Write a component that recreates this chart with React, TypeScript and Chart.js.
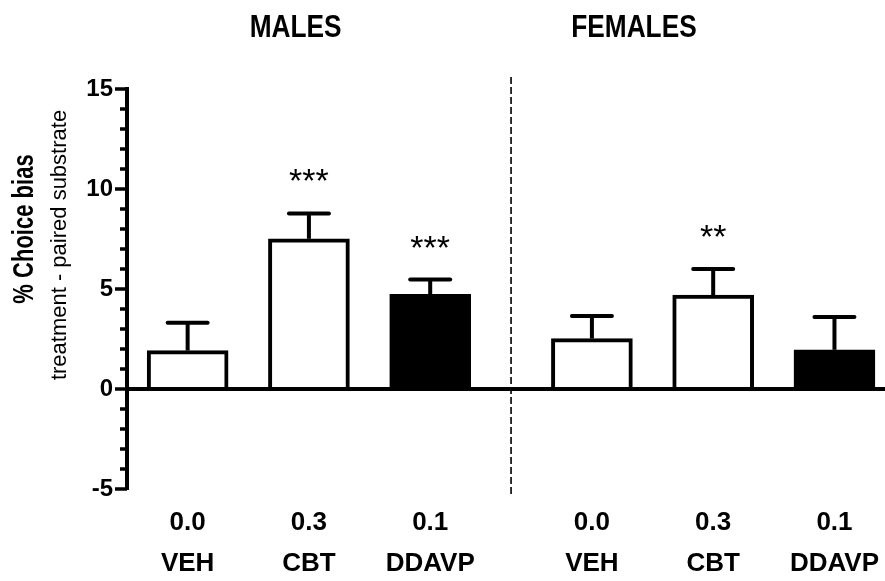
import { useEffect, useRef } from 'react';
import { Chart, registerables } from 'chart.js';

Chart.register(...registerables);

const treatments = ['VEH', 'CBT', 'DDAVP'];
const doses = ['0.0', '0.3', '0.1'];
const groupTitles = ['MALES', 'FEMALES'];
const maleMeans = [1.92, 7.51, 4.73];
const maleSEM = [1.39, 1.27, 0.74];
const femaleMeans = [2.52, 4.7, 1.96];
const femaleSEM = [1.13, 1.3, 1.64];
const maleStars = ['', '***', '***'];
const femaleStars = ['', '**', ''];
const barFills = ['#ffffff', '#ffffff', '#000000'];
const yTickValues = [-5, 0, 5, 10, 15];
const yTitle = '% Choice bias';
const ySubtitle = 'treatment - paired substrate';

const FONT = "'Liberation Sans', Arial, Helvetica, sans-serif";
const GROUP_SHIFT = 10 / 3;

export default function App() {
  const ref = useRef<HTMLCanvasElement>(null);

  useEffect(() => {
    if (!ref.current) return;
    const means = [...maleMeans, ...femaleMeans];
    const sems = [...maleSEM, ...femaleSEM];
    const stars = [...maleStars, ...femaleStars];
    const fills = [...barFills, ...barFills];
    const xs = [
      ...treatments.map((_, i) => i),
      ...treatments.map((_, i) => i + GROUP_SHIFT),
    ];
    const points = xs.map((x, i) => ({ x, y: means[i] }));
    const titleX = [0.89, 3.68];
    const dividerX = (treatments.length - 1 + GROUP_SHIFT) / 2;

    const decor = {
      id: 'decor',
      afterDatasetsDraw(chart: any) {
        const ctx = chart.ctx as CanvasRenderingContext2D;
        const { left, right } = chart.chartArea;
        const xS = chart.scales.x;
        const yS = chart.scales.y;
        ctx.save();
        ctx.strokeStyle = '#000';
        ctx.fillStyle = '#000';

        // zero line
        const y0 = yS.getPixelForValue(0);
        ctx.lineWidth = 4;
        ctx.beginPath();
        ctx.moveTo(left, y0);
        ctx.lineTo(right, y0);
        ctx.stroke();

        // error bars and significance stars
        const meta = chart.getDatasetMeta(0);
        meta.data.forEach((el: any, i: number) => {
          const x = el.x;
          const yt = yS.getPixelForValue(means[i]);
          const ye = yS.getPixelForValue(means[i] + sems[i]);
          ctx.lineWidth = 4;
          ctx.lineCap = 'butt';
          ctx.beginPath();
          ctx.moveTo(x, yt);
          ctx.lineTo(x, ye);
          ctx.stroke();
          ctx.lineCap = 'round';
          ctx.beginPath();
          ctx.moveTo(x - 20, ye);
          ctx.lineTo(x + 20, ye);
          ctx.stroke();
          if (stars[i]) {
            ctx.font = `34px ${FONT}`;
            ctx.textAlign = 'center';
            ctx.textBaseline = 'alphabetic';
            ctx.fillText(stars[i], x, ye - 21);
          }
        });

        // y tick marks (major + minor)
        ctx.lineCap = 'butt';
        ctx.lineWidth = 3.5;
        for (let v = yS.min; v <= yS.max; v += 1) {
          const y = yS.getPixelForValue(v);
          const len = v % 5 === 0 ? 12 : 7;
          ctx.beginPath();
          ctx.moveTo(left - len, y);
          ctx.lineTo(left, y);
          ctx.stroke();
        }

        // dashed divider
        const dx = xS.getPixelForValue(dividerX);
        ctx.lineWidth = 1.6;
        ctx.setLineDash([7, 3]);
        ctx.beginPath();
        ctx.moveTo(dx, 77);
        ctx.lineTo(dx, 497);
        ctx.stroke();
        ctx.setLineDash([]);

        // group titles (condensed bold letterforms)
        ctx.font = `bold 32px ${FONT}`;
        ctx.textAlign = 'center';
        ctx.textBaseline = 'alphabetic';
        groupTitles.forEach((t, i) => {
          ctx.save();
          ctx.translate(xS.getPixelForValue(titleX[i]), 37);
          ctx.scale(0.82, 1);
          ctx.fillText(t, 0, 0);
          ctx.restore();
        });

        // y axis titles
        ctx.textBaseline = 'middle';
        ctx.save();
        ctx.translate(25, 229);
        ctx.rotate(-Math.PI / 2);
        ctx.scale(0.76, 1);
        ctx.font = `bold 29px ${FONT}`;
        ctx.fillText(yTitle, 0, 0);
        ctx.restore();
        ctx.save();
        ctx.translate(60, 245);
        ctx.rotate(-Math.PI / 2);
        ctx.font = `22px ${FONT}`;
        ctx.fillText(ySubtitle, 0, 0);
        ctx.restore();

        ctx.restore();
      },
    };

    const chart = new Chart(ref.current, {
      type: 'bar',
      data: {
        datasets: [
          {
            data: points as any,
            backgroundColor: fills,
            borderColor: '#000',
            borderWidth: 4,
            barThickness: 81,
          },
        ],
      },
      options: {
        animation: false,
        responsive: true,
        maintainAspectRatio: false,
        layout: { padding: { top: 89, left: 0, right: 0, bottom: 0 } },
        plugins: { legend: { display: false }, tooltip: { enabled: false } },
        scales: {
          x: {
            type: 'linear',
            min: -0.5,
            max: 5.75,
            offset: false,
            grid: { display: false, drawTicks: false, offset: false },
            border: { display: false },
            afterBuildTicks: (s: any) => {
              s.ticks = xs.map((v) => ({ value: v }));
            },
            afterFit: (s: any) => {
              s.height = 92;
              s.paddingLeft = 0;
              s.paddingRight = 0;
            },
            ticks: {
              autoSkip: false,
              maxRotation: 0,
              minRotation: 0,
              padding: 13,
              color: '#000',
              font: { family: FONT, size: 26, weight: 'bold', lineHeight: 1.58 },
              callback: (_v: any, i: number) => [doses[i % 3], treatments[i % 3]],
            },
          },
          y: {
            min: -5,
            max: 15,
            grid: { display: false, drawTicks: false },
            border: { display: true, color: '#000', width: 4 },
            afterBuildTicks: (s: any) => {
              s.ticks = yTickValues.map((v) => ({ value: v }));
            },
            afterFit: (s: any) => {
              s.width = 127;
              s.paddingTop = 0;
              s.paddingBottom = 0;
            },
            ticks: {
              padding: 14,
              color: '#000',
              font: { family: FONT, size: 24, weight: 'bold' },
              callback: (v: any) => String(v),
            },
          },
        },
      },
      plugins: [decor],
    });
    return () => chart.destroy();
  }, []);

  return (
    <div style={{ position: 'absolute', left: 0, top: 0, width: 885, height: 581, background: '#fff' }}>
      <canvas ref={ref} />
    </div>
  );
}
